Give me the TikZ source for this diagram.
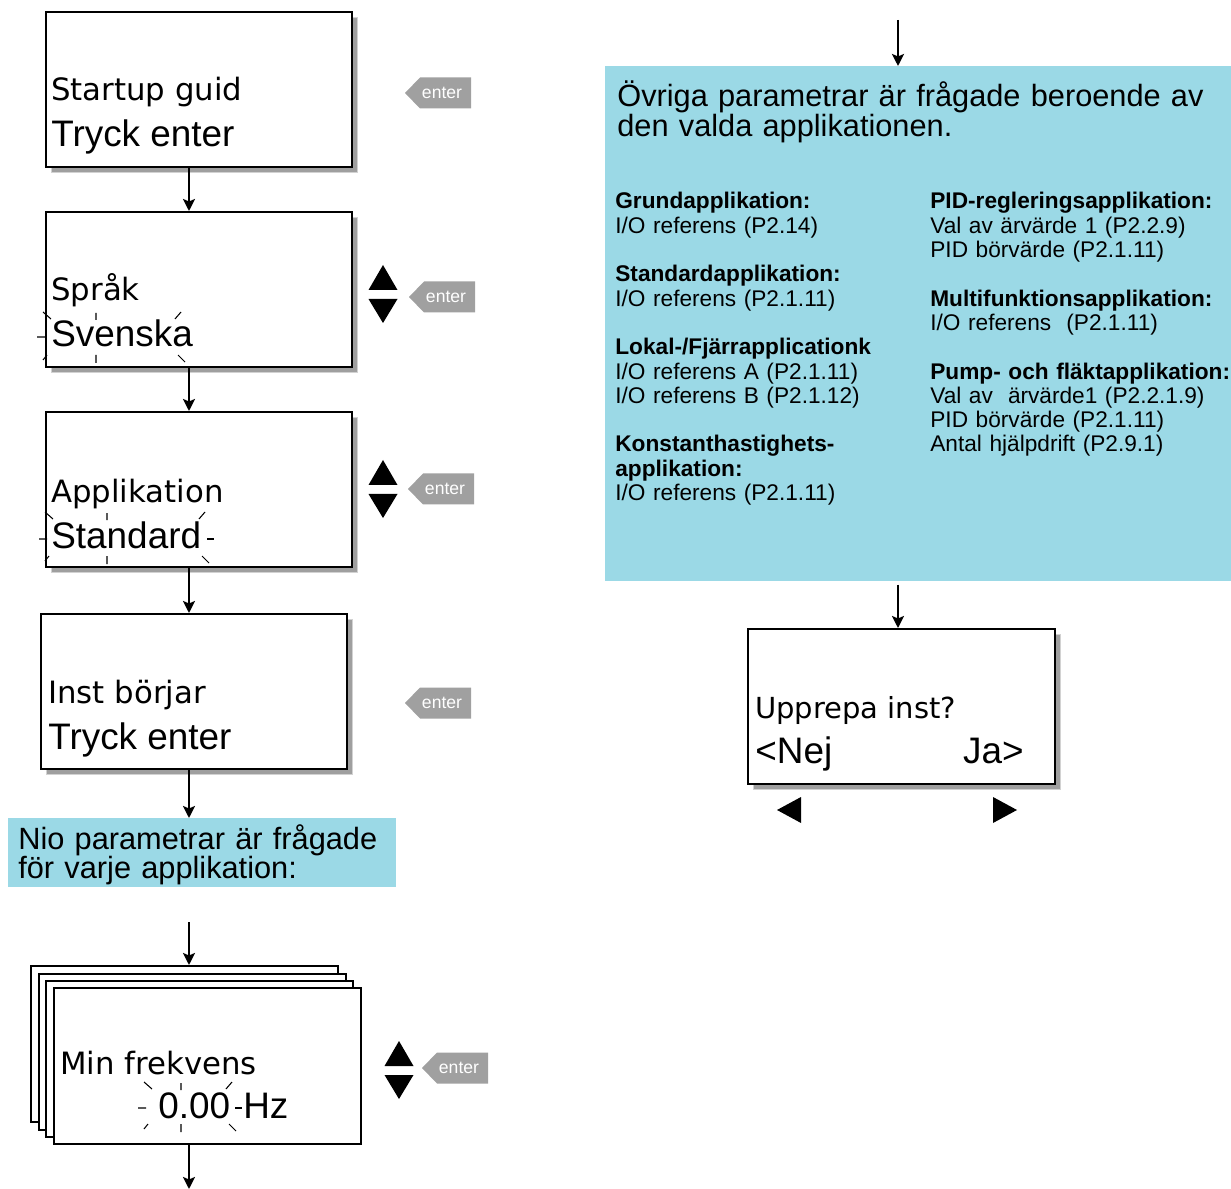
\documentclass[tikz,border=0pt]{standalone}
\usepackage{fontspec}
\setmainfont{Liberation Sans}
\newfontfamily\lcdfont{DejaVu Sans}
\usetikzlibrary{arrows.meta, positioning, calc, shadows}
\definecolor{panelcyan}{RGB}{155,217,230}
\definecolor{keygray}{RGB}{160,160,160}

% up/down keys, x and centre y
\newcommand{\updown}[2]{%
  \fill ({#1-14.5},{#2-4}) -- ({#1+14.5},{#2-4}) -- (#1,{#2-29}) -- cycle;
  \fill ({#1-14.5},{#2+5}) -- ({#1+14.5},{#2+5}) -- (#1,{#2+29}) -- cycle;}
% enter key, name, tip x, centre y
\newcommand{\enterkey}[3]{%
  \fill[keygray] (#2,#3) -- ({#2+15},{#3-15.5}) -- ({#2+66},{#3-15.5})
    -- ({#2+66},{#3+15.5}) -- ({#2+15},{#3+15.5}) -- cycle;
  \node[keytext] (#1) at ({#2+37},#3) {enter};}
% blinking marks round an edited value
\newcommand{\blink}[6]{%
  \draw[blinkline] ({#1-2},#4) -- ({#1+6},{#4+7})
    ({#1-8},#6) -- (#1,#6)
    ({#1-2},{#5+5}) -- ({#1+2},#5)
    (#3,{#4+1}) -- (#3,{#4+8})
    (#3,#5) -- (#3,{#5+8})
    ({#2-6},{#4+7}) -- (#2,#4)
    ({#2-3},#5) -- ({#2+4},{#5+7});}
\newcommand{\blinkright}[2]{\draw[blinkline] ({#1+2},#2) -- ({#1+9},#2);}

\begin{document}
\begin{tikzpicture}[x=0.02cm, y=-0.02cm,
  lcdbox/.style={draw, line width=1.4pt, fill=white, minimum width=6.12cm,
    minimum height=3.1cm, anchor=north west, inner sep=0,
    copy shadow={shadow xshift=0.1cm, shadow yshift=-0.1cm, fill=gray!75, draw=gray!35, line width=0.6pt}},
  stackbox/.style={draw, line width=1.4pt, fill=white, minimum width=6.14cm,
    minimum height=3.12cm, anchor=north west, inner sep=0},
  topline/.style={font=\lcdfont\fontsize{17.5}{21}\selectfont, anchor=base west, inner sep=0},
  botline/.style={font=\fontsize{21}{25}\selectfont, anchor=base west, inner sep=0},
  flowarrow/.style={line width=1.5pt, -{Stealth[length=2.4mm, width=2.4mm, inset=0.5mm]}},
  panel/.style={fill=panelcyan, anchor=north west, inner sep=0},
  paneltext/.style={font=\fontsize{17.5}{17}\selectfont, anchor=base west, inner sep=0,
    text width=12cm, align=left},
  coltext/.style={font=\fontsize{12.9}{13.83}\selectfont, anchor=base west, inner sep=0,
    text width=6.2cm, align=left},
  keytext/.style={font=\fontsize{10}{12}\selectfont, text=white, inner sep=0},
  blinkline/.style={line width=0.6pt}]
  \useasboundingbox (0,0) rectangle (1231,1189);

  % Startup guide
  \node[lcdbox] (guide) at (45,11) {};
  \node[topline] (guidea) at (51,101) {Startup guid};
  \node[botline] (guideb) at (51,147) {Tryck enter};
  \enterkey{guidekey}{405}{93}

  % Language
  \node[lcdbox] (lang) at (45,211) {};
  \node[topline] (langa) at (51,301) {Språk};
  \node[botline] (langb) at (51,347) {Svenska};
  \blink{45}{181}{96}{312}{355}{337}
  \updown{383}{294}
  \enterkey{langkey}{409}{297}

  % Application
  \node[lcdbox] (appl) at (45,411) {};
  \node[topline] (appla) at (51,502) {Applikation};
  \node[botline] (applb) at (51,548) {Standard};
  \blink{47}{205}{107}{512}{556}{539}
  \blinkright{205}{539}
  \updown{383}{489}
  \enterkey{applkey}{408}{489}

  % Start of setup
  \node[lcdbox] (inst) at (40,613) {};
  \node[topline] (insta) at (48,703) {Inst börjar};
  \node[botline] (instb) at (48,749) {Tryck enter};
  \enterkey{instkey}{405}{703}

  % Nine parameters
  \node[panel, minimum width=7.76cm, minimum height=1.38cm] (nio) at (8,818) {};
  \node[paneltext] (niotext) at (18,849) {Nio parametrar är frågade\\för varje applikation:};

  % Parameter stack
  \coordinate (stackin) at (189,922);
  \node[stackbox] (stka) at (30,965) {};
  \node[stackbox] (stkb) at (38,973) {};
  \node[stackbox] (stkc) at (45,980) {};
  \node[stackbox] (minf) at (53,987) {};
  \node[topline] (minfa) at (60,1074) {Min frekvens};
  \node[botline] (minfb) at (158,1118) {0.00};
  \node[botline] (minfc) at (243,1118) {Hz};
  \blink{146}{232}{181}{1082}{1124}{1108}
  \blinkright{233}{1108}
  \updown{399}{1070}
  \enterkey{minfkey}{422}{1068}
  \coordinate (stackout) at (189,1189);

  % Other parameters
  \coordinate (ovrin) at (898,20);
  \node[panel, minimum width=12.52cm, minimum height=10.3cm] (ovr) at (605,66) {};
  \node[paneltext] (ovrtitle) at (617,107) {Övriga parametrar är frågade beroende av\\den valda applikationen.};
  \node[coltext] (colleft) at (615,209) {%
    \textbf{Grundapplikation:}\\I/O referens (P2.14)\\[13.83pt]
    \textbf{Standardapplikation:}\\I/O referens (P2.1.11)\\[13.83pt]
    \textbf{Lokal-/Fjärrapplicationk}\\I/O referens A (P2.1.11)\\I/O referens B (P2.1.12)\\[13.83pt]
    \textbf{Konstanthastighets-}\\\textbf{applikation:}\\I/O referens (P2.1.11)};
  \node[coltext] (colright) at (930,209) {%
    \textbf{PID-regleringsapplikation:}\\Val av ärvärde 1 (P2.2.9)\\PID börvärde (P2.1.11)\\[13.83pt]
    \textbf{Multifunktionsapplikation:}\\I/O referens~~(P2.1.11)\\[13.83pt]
    \textbf{Pump- och fläktapplikation:}\\Val av~~ärvärde1 (P2.2.1.9)\\PID börvärde (P2.1.11)\\Antal hjälpdrift (P2.9.1)};

  % Repeat setup
  \node[lcdbox, minimum width=6.14cm] (repeat) at (747,628) {};
  \node[topline, font=\lcdfont\fontsize{16.5}{19}\selectfont] (repeata) at (755,718) {Upprepa inst?};
  \node[botline] (repeatb) at (755,763) {<Nej};
  \node[botline, anchor=base east] (repeatc) at (1024,763) {Ja>};
  \fill (777,810) -- (801,797) -- (801,823) -- cycle;
  \fill (993,797) -- (1017,810) -- (993,823) -- cycle;

  % Flow
  \draw[flowarrow] (guide.south -| 189,0) -- (lang.north -| 189,0);
  \draw[flowarrow] (lang.south -| 189,0) -- (appl.north -| 189,0);
  \draw[flowarrow] (appl.south -| 189,0) -- (inst.north -| 189,0);
  \draw[flowarrow] (inst.south -| 189,0) -- (nio.north -| 189,0);
  \draw[flowarrow] (stackin) -- (stka.north -| stackin);
  \draw[flowarrow] (minf.south -| stackout) -- (stackout);
  \draw[flowarrow] (ovrin) -- (ovr.north -| ovrin);
  \draw[flowarrow] ([yshift=-0.06cm]ovr.south -| ovrin) -- (repeat.north -| ovrin);
\end{tikzpicture}
\end{document}
